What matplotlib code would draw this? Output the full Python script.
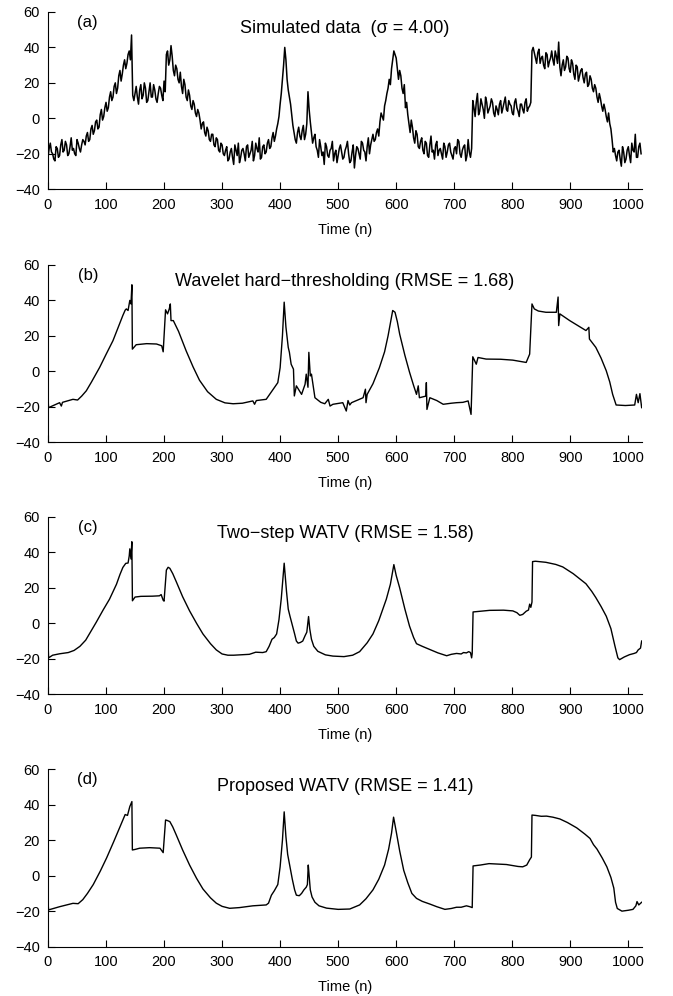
import numpy as np
import matplotlib
matplotlib.use('Agg')
import matplotlib.pyplot as plt

plt.rcParams['font.family'] = ['Liberation Sans', 'DejaVu Sans']

# (a) noisy simulated data: values at n = 0, 4, 8, ... and at n = 2, 6, 10, ...
sim_y = [
    -22, -14, -20, -24, -17, -21, -12, -18, -15, -20, -11, -17, -21, -14, -19, -12,
    -15, -8, -12, -4, -7, -1, -5, 5, 1, 9,
    6, 15, 12, 20, 17, 27, 25, 33, 31, 38, 47,
    10, 18, 8, 19, 13, 17, 10, 20, 12, 16, 9, 18, 13, 21,
    36, 30, 41, 27, 30, 22, 26, 14, 19, 10, 13, 5, 8, 1, 3,
    -6, -2, -10, -7, -13, -9, -16, -12, -19, -15,
    -21, -16, -23, -17, -26, -18, -14, -22, -17, -24, -15, -20, -13, -21, -17, -11, -22, -15, -19, -12, -16,
    -8, -10, -3, 8, 22, 40, 22, 12, 2, -8,
    -14, -5, -12, -4, -9, 15, -2, -14, -9,
    -18, -12, -21, -26, -16, -22, -17, -24, -18, -21, -15, -23, -18, -13, -25, -19, -28, -16, -20, -13, -18, -24, -11, -15, -9,
    -12, -6, -2, 1, 7, 14, 22, 28, 38, 34,
    22, 24, 14, 6, 2, -8, -5, -14, -9, -17,
    -11, -20, -14, -22, -10, -18, -15, -21, -17, -23, -16, -19, -14, -21, -17, -20, -13, -22, -16, -24, -12, -22,
    10, 1, 14, 4, 8, 0, 9, 5, 11, 3, 7, 2, 10, 6, 12, 4, 8, 3, 9, 6, 1, 8, 3, 11, 6, 9,
    40, 34, 37, 31, 35, 28, 36, 32, 38, 30, 35, 43,
    24, 33, 29, 34, 26, 31, 22, 29, 24, 28, 20, 26, 19, 22, 15,
    17, 9, 11, 4, 5, -2, -3, -12,
    -17, -24, -18, -27, -19, -23, -16, -25, -18, -9, -22, -14,
]
sim_y_mid = [
    -17, -19, -23, -16, -22, -15, -19, -13, -21, -16, -18, -20, -12, -17, -15, -13,
    -10, -13, -6, -9, -2, -6, 2, -1, 6, 4,
    12, 10, 18, 14, 24, 21, 30, 28, 36, 33, 13,
    14, 12, 16, 11, 20, 9, 15, 12, 19, 11, 14, 17, 10, 15,
    38, 33, 35, 24, 28, 20, 18, 22, 12, 16, 7, 10, 3, 5, -1,
    -3, -8, -5, -12, -9, -15, -11, -18, -14, -20,
    -18, -24, -19, -22, -15, -21, -25, -18, -20, -16, -22, -18, -24, -14, -19, -23, -16, -20, -14, -17, -11,
    -13, -6, 1, 14, 30, 33, 16, 8, -4, -12,
    -8, -10, -7, -12, -3, 5, -8, -11, -16,
    -22, -16, -19, -14, -21, -18, -13, -20, -25, -17, -19, -22, -16, -20, -24, -15, -21, -17, -23, -14, -19, -16, -20, -12, -13,
    -8, -10, 3, -1, 10, 17, 19, 33, 36, 28,
    27, 17, 19, 9, -3, -1, -11, -7, -16, -13,
    -18, -13, -21, -15, -19, -23, -13, -18, -20, -14, -22, -15, -19, -23, -16, -12, -20, -18, -15, -21, -19, -17,
    6, 9, 2, 11, 5, 12, 3, 7, 9, 1, 5, 8, 3, 9, 5, 10, 7, 2, 11, 4, 8, 5, 9, 4, 7, 38,
    37, 31, 39, 34, 30, 37, 29, 34, 33, 38, 31, 29,
    30, 27, 35, 28, 33, 25, 30, 21, 27, 23, 25, 18, 24, 17, 19,
    12, 14, 7, 8, 1, 3, -6, -19,
    -21, -19, -23, -16, -25, -18, -21, -14, -19, -22, -16, -20,
]

# (b) wavelet hard-thresholding, (n, value) vertices
hard_pts = [
    (0, -14.9), (1, -20.5), (14, -18.6), (20, -17.7), (23, -19.6), (25, -17.5), (43, -15.8), (51, -16.2),
    (58, -14), (66, -11), (75, -6), (89, 2.2), (100, 9.5), (112, 17.3), (120, 24), (129, 31.5),
    (133, 34.5), (135, 35.2), (138, 34.3), (141, 40), (143, 38), (144.6, 48.8), (145.4, 12.5),
    (152, 15), (170, 15.6), (187, 15.4), (196, 14.4), (198.5, 11), (202.6, 34.7), (206, 32.4),
    (209, 35.2), (210.8, 38), (212, 28.6), (216, 28.6), (225, 22.5), (238, 11.6), (250, 2.5),
    (261, -5), (275, -11.5), (290, -15.8), (305, -17.8), (319, -18.3), (335, -18), (353, -16.7),
    (356, -18.6), (359, -16.5), (376, -15.8), (388, -10.1), (396, -6.4), (400, 2), (404, 20),
    (407, 39), (410, 25), (414, 13.5), (416, 10.7), (419, 4), (423, 1.2), (424.5, -13.9), (428, -8.2),
    (437, -13), (443, -7.3), (445, -1.6), (448, -9), (449.5, 10.7), (452, -2.6), (454, -1.6),
    (460, -14.9), (470, -17.5), (477, -18.3), (483, -15.8), (486, -19.6), (491, -18.6), (508, -17.7),
    (514, -22.4), (517, -16.5), (520, -19), (523, -17.7), (543, -14.9), (547, -10.1), (548, -17.7),
    (550, -13), (560, -7), (571, 2), (580, 11), (586, 20), (590, 27), (594, 34.3), (598, 33.3),
    (602, 28), (606, 21), (615, 9), (623, -0.5), (630, -8), (635, -13), (638, -8.2), (640, -14.9),
    (651, -14), (652, -6.4), (653, -21.5), (658, -14.9), (670, -16.5), (681, -18.6), (695, -18),
    (704, -17.7), (715, -17.5), (724, -16.7), (729, -24.3), (732, 8.2), (738, 4), (741, 7.8),
    (755, 6.9), (780, 6.8), (801, 6.3), (815, 5.5), (824, 5), (830, 9.7), (834, 38), (838, 35.2),
    (845, 34), (858, 33.3), (876, 33.3), (879, 41.9), (880, 25.8), (882, 32.4), (899, 28.6),
    (912, 26), (927, 23), (932, 24.8), (933, 18.2), (944, 13.5), (953, 7.5), (962, 0.3), (968, -6),
    (973, -13), (979, -19), (995, -19.3), (1011, -19), (1014, -13), (1017, -17.7), (1020, -12.6),
    (1023, -20.5),
]

# (c) two-step WATV
twostep_pts = [
    (0, -10), (1, -19.5), (8, -18), (20, -17.2), (35, -16.5), (45, -15.3), (55, -13), (65, -9.5),
    (75, -4), (83, 0.5), (95, 7.5), (106, 13.6), (118, 22), (124, 27.5), (129, 31.5), (134, 33.8),
    (138, 34), (140, 38), (141, 42), (143, 36.3), (144.5, 46), (145.5, 12.7), (150, 14.8), (160, 15.2),
    (180, 15.3), (192, 15.5), (195, 16.2), (198.5, 13), (200, 12.5), (204, 30), (207, 31.6),
    (210, 31), (215, 28), (221, 23.5), (232, 15), (244, 7), (256, 0), (267, -6), (280, -11.5),
    (290, -15), (300, -17.3), (310, -18), (320, -18), (347, -17.5), (358, -16.3), (370, -16.5),
    (376, -16), (381, -13), (386, -9), (390, -8), (394, -6), (398, 2), (402, 14), (407, 33.9),
    (411, 18), (414, 8), (417, 4), (421, -1), (425, -6), (428, -10), (431, -11.2), (435, -10.8),
    (439, -10), (443, -7), (446, -5), (449, 3.8), (451, -3), (454, -9), (458, -13), (465, -15.8),
    (478, -17.8), (491, -18.5), (510, -18.8), (525, -18), (537, -16), (550, -11), (560, -6),
    (570, 1.5), (583, 13.6), (590, 22), (596, 33.1), (600, 27), (606, 20), (615, 8), (623, -1.6),
    (630, -8), (635, -11.5), (645, -13), (658, -14.8), (672, -16.7), (687, -18.3), (695, -17.5),
    (704, -17), (712, -17.3), (716, -16.5), (721, -16.7), (725, -16), (728, -16.5), (730, -19.5),
    (731, -17), (732.5, 6.4), (745, 6.8), (761, 7.3), (785, 7.4), (801, 7), (808, 6), (813, 4.5),
    (818, 5), (824, 6.8), (828, 7.5), (830, 10.8), (832, 9), (834, 12), (835, 34.8), (840, 35),
    (858, 34.4), (875, 33.2), (887, 31.8), (905, 28), (927, 22.3), (937, 18), (944, 14.5),
    (953, 9.5), (962, 4), (970, -3), (977, -12.9), (982, -19.5), (985, -20.5), (993, -19),
    (1002, -17.7), (1010, -17), (1014, -16.5), (1017, -15), (1019, -14.5), (1021, -14), (1023, -10),
]

# (d) proposed WATV
proposed_pts = [
    (0, -14.6), (1, -19.3), (20, -17.5), (43, -15.6), (52, -15.8), (60, -13.5), (68, -10), (78, -5),
    (90, 2.5), (101, 10), (113, 19), (124, 27.5), (133, 34.5), (137, 34), (141, 39), (144.6, 41.8),
    (145.4, 14.5), (150, 14.8), (158, 15.5), (175, 15.8), (193, 15.5), (198.5, 13), (202.6, 31.4),
    (205, 31.2), (210, 30.5), (215, 27.5), (221, 23), (232, 14.5), (244, 6), (256, -1.5), (267, -7.5),
    (280, -12.5), (290, -15.5), (300, -17.3), (313, -18.4), (330, -18), (353, -17), (376, -16.5),
    (380, -15.5), (385, -11), (390, -8.5), (396, -5), (400, 5), (404, 20), (407, 36), (410, 22),
    (413, 12), (417, 5), (421, -2), (425, -8), (428, -11), (433, -11.3), (437, -10), (441, -8),
    (445, -6.5), (447, -5), (448.5, 6), (450, 0), (452, -8), (455, -12), (460, -15), (467, -17),
    (480, -18.3), (500, -19), (520, -18.8), (537, -16.5), (548, -13), (560, -8), (570, -2), (580, 6),
    (587, 15), (592, 24), (595.5, 33), (600, 25), (606, 14), (613, 3), (620, -4), (627, -10),
    (635, -12.8), (645, -14.5), (658, -16), (670, -17.5), (684, -19), (695, -18.5), (704, -17.8),
    (712, -17.8), (721, -17), (727, -17.5), (731, -18), (732.5, 5.5), (745, 6), (760, 6.8),
    (790, 6.3), (810, 5.2), (818, 5), (825, 6), (830, 9), (833, 10.5), (834, 34.2), (840, 34),
    (850, 33.5), (859, 33.6), (870, 33), (882, 32), (895, 30), (911, 27), (925, 23.5), (934, 21),
    (940, 17.5), (946, 15), (955, 10), (963, 5), (970, -1), (975, -7), (978, -15), (981, -18.5),
    (989, -20), (1000, -19.5), (1008, -19), (1013, -17), (1015, -14.6), (1018, -16.5), (1023, -15),
]

titles = [
    'Simulated data  (\u03c3 = 4.00)',
    'Wavelet hard\u2212thresholding (RMSE = 1.68)',
    'Two\u2212step WATV (RMSE = 1.58)',
    'Proposed WATV (RMSE = 1.41)',
]
letters = ['(a)', '(b)', '(c)', '(d)']
xticks = [0, 100, 200, 300, 400, 500, 600, 700, 800, 900, 1000]
yticks = [-40, -20, 0, 20, 40, 60]

fig = plt.figure(figsize=(6.73, 9.96), dpi=100)
tops = [0.988, 0.734, 0.481, 0.2276]
height = 0.178

# interleave the two halves of the noisy series
sim_all = np.column_stack([sim_y, sim_y_mid]).ravel()
series = [(np.arange(len(sim_all)) * 2, sim_all, 1.1)]
for pts in (hard_pts, twostep_pts, proposed_pts):
    nn, vv = zip(*pts)
    series.append((np.array(nn), np.array(vv), 1.0))

for k in range(4):
    ax = fig.add_axes([0.0713, tops[k] - height, 0.883, height])
    x, y, lw = series[k]
    ax.plot(x, y, color='black', lw=lw)
    ax.set_xlim(0, 1024)
    ax.set_ylim(-40, 60)
    ax.set_xticks(xticks)
    ax.set_yticks(yticks)
    ax.spines['top'].set_visible(False)
    ax.spines['right'].set_visible(False)
    ax.tick_params(direction='in', length=5, labelsize=10.5, pad=6)
    ax.set_xlabel('Time (n)', fontsize=10.5, labelpad=8)
    ax.text(0.5, 0.905, titles[k], transform=ax.transAxes, ha='center', va='center', fontsize=13)
    ax.text(0.067, 0.94, letters[k], transform=ax.transAxes, ha='center', va='center', fontsize=12)

fig.savefig('out.png', dpi=100)
